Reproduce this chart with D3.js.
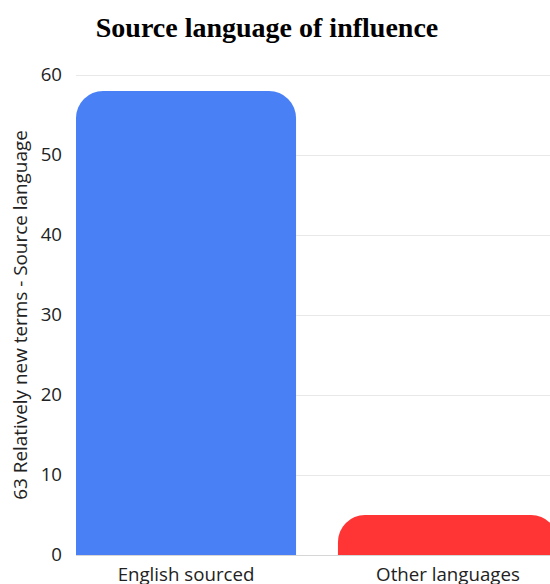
<!DOCTYPE html>
<html>
<head>
<meta charset="utf-8">
<script src="https://cdn.jsdelivr.net/npm/d3@7"></script>
<style>
  html, body { margin: 0; padding: 0; background: #fff; }
  svg { display: block; }
</style>
</head>
<body>
<svg id="chart" width="550" height="584"></svg>
<script>
// Source-language counts for 63 relatively new terms
const categories = ["English sourced", "Other languages"];
const counts = [58, 5];
const barColors = ["#4a80f6", "#ff3535"];
const yTicks = [0, 10, 20, 30, 40, 50, 60];

const svg = d3.select("#chart");
const margin = { left: 76, top: 75, bottom: 555 };
const labelFont = "'Open Sans', sans-serif";
const labelSize = 18.7;

const x = d3.scaleBand()
  .domain(categories)
  .range([margin.left, 558])
  .paddingInner(0.16)
  .paddingOuter(0);

const y = d3.scaleLinear()
  .domain([0, 60])
  .range([margin.bottom, margin.top]);

// Title
svg.append("text")
  .attr("x", 267)
  .attr("y", 37)
  .attr("text-anchor", "middle")
  .attr("font-family", "'Liberation Serif', 'Times New Roman', serif")
  .attr("font-weight", "bold")
  .attr("font-size", 28)
  .attr("fill", "#000")
  .text("Source language of influence");

// Horizontal gridlines
svg.append("g")
  .selectAll("line")
  .data(yTicks)
  .join("line")
  .attr("x1", margin.left)
  .attr("x2", 550)
  .attr("y1", d => y(d) + 0.5)
  .attr("y2", d => y(d) + 0.5)
  .attr("stroke", d => d === 0 ? "#d6d6d6" : "#e8e8e8")
  .attr("stroke-width", 1);

// Y axis tick labels
const yAxis = d3.axisLeft(y).tickValues(yTicks).tickSize(0).tickPadding(0);
const yg = svg.append("g")
  .attr("transform", `translate(62,0)`)
  .call(yAxis);
yg.select(".domain").remove();
yg.selectAll("text")
  .attr("font-family", labelFont)
  .attr("font-size", labelSize)
  .attr("fill", "#222");

// Y axis title
svg.append("text")
  .attr("transform", `translate(27,${(margin.top + margin.bottom) / 2}) rotate(-90)`)
  .attr("text-anchor", "middle")
  .attr("font-family", labelFont)
  .attr("font-size", 18.9)
  .attr("fill", "#222")
  .text("63 Relatively new terms - Source language");

// Bars with rounded top corners
function topRounded(x0, y0, w, h, r) {
  r = Math.min(r, h, w / 2);
  return `M${x0},${y0 + h}` +
    `V${y0 + r}` +
    `A${r},${r} 0 0 1 ${x0 + r},${y0}` +
    `H${x0 + w - r}` +
    `A${r},${r} 0 0 1 ${x0 + w},${y0 + r}` +
    `V${y0 + h}Z`;
}

svg.append("g")
  .selectAll("path")
  .data(categories)
  .join("path")
  .attr("d", (c, i) => {
    const top = y(counts[i]);
    return topRounded(x(c), top, x.bandwidth(), y(0) - top, 27);
  })
  .attr("fill", (c, i) => barColors[i]);

// Category labels
const xAxis = d3.axisBottom(x).tickSize(0).tickPadding(0);
const xg = svg.append("g")
  .attr("transform", `translate(0,${y(0) + 13})`)
  .call(xAxis);
xg.select(".domain").remove();
xg.selectAll("text")
  .attr("font-family", labelFont)
  .attr("font-size", labelSize)
  .attr("fill", "#222");
</script>
</body>
</html>
